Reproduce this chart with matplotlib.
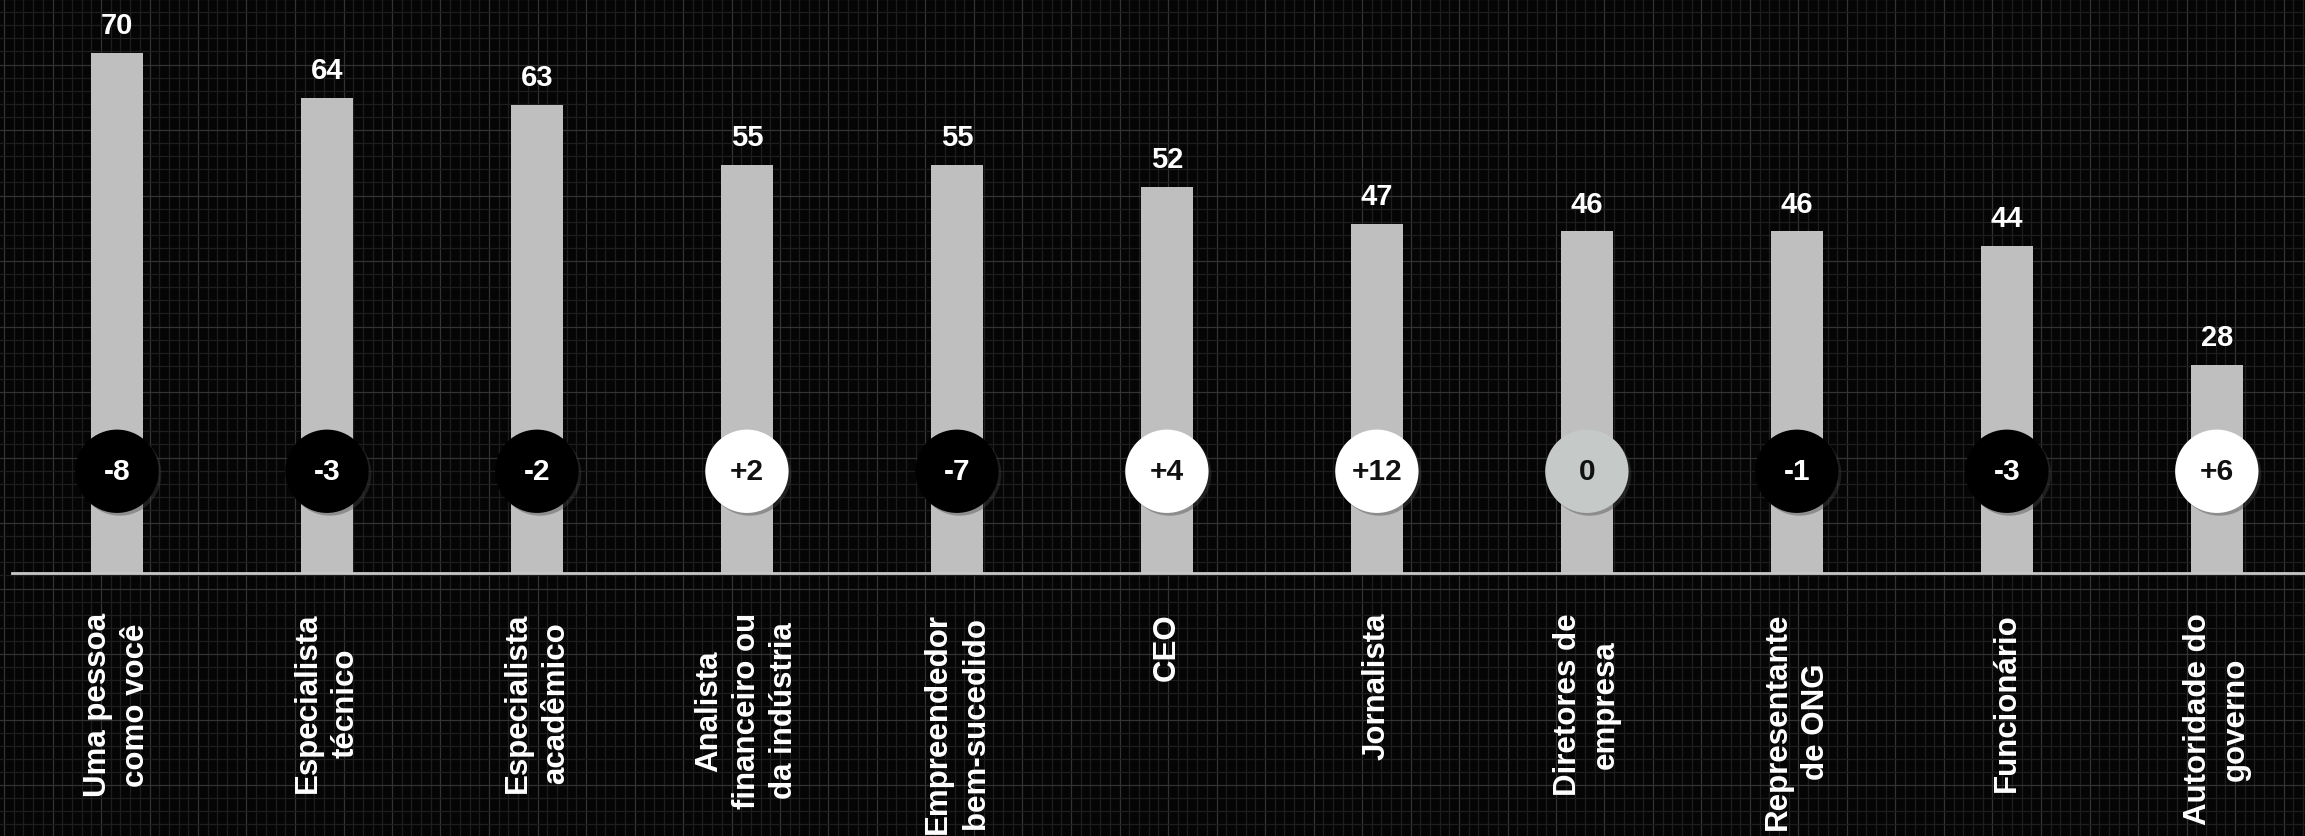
import matplotlib
matplotlib.use("Agg")
import matplotlib.pyplot as plt
import matplotlib.patheffects as pe
import numpy as np

plt.rcParams['font.family'] = ['Liberation Sans', 'DejaVu Sans']
plt.rcParams['font.weight'] = 'bold'

# data
categories = ['Uma pessoa\ncomo você', 'Especialista\ntécnico', 'Especialista\nacadêmico',
              'Analista\nfinanceiro ou\nda indústria', 'Empreendedor\nbem-sucedido', 'CEO',
              'Jornalista', 'Diretores de\nempresa', 'Representante\nde ONG', 'Funcionário',
              'Autoridade do\ngoverno']
values = [70, 64, 63, 55, 55, 52, 47, 46, 46, 44, 28]
changes = [-8, -3, -2, 2, -7, 4, 12, 0, -1, -3, 6]

W, H, DPI = 2305, 837, 100
fig = plt.figure(figsize=(W / DPI, H / DPI), dpi=DPI)
fig.patch.set_facecolor('#050505')

# background grid (decorative)
bg = fig.add_axes([0, 0, 1, 1], zorder=0)
bg.set_xlim(0, W)
bg.set_ylim(H, 0)
bg.set_facecolor('#050505')
bg.axis('off')
for k, xv in enumerate(np.arange(4, W, 9.7)):
    bg.axvline(xv, color='#333333' if k % 5 == 0 else '#1e1e1e', lw=0.9)
for k, yv in enumerate(np.arange(0, H, 13.1)):
    bg.axhline(yv, color='#333333' if k % 5 == 0 else '#1e1e1e', lw=0.9)

# main axes
base_px = 574
ax = fig.add_axes([12 / W, (H - base_px) / H, 1 - 12 / W, base_px / H], zorder=1)
ax.set_facecolor('none')
x = np.arange(len(values))
ax.bar(x, values, width=0.248, color='#bfbfbf', zorder=2)
ax.set_xlim(-0.5, 10.42)
ax.set_ylim(0, 77.3)

for s in ['top', 'right', 'left']:
    ax.spines[s].set_visible(False)
ax.spines['bottom'].set_color('#c8c8c8')
ax.spines['bottom'].set_linewidth(2)
ax.set_yticks([])
ax.set_xticks(x)
ax.set_xticklabels(categories, rotation=90, ha='center', va='top', multialignment='center',
                   color='white', fontsize=22.5, fontweight='bold', linespacing=1.32)
ax.tick_params(axis='x', length=0, pad=28)

# value labels
for xi, v in zip(x, values):
    ax.annotate(str(v), (xi, v), xytext=(0, 20), textcoords='offset points',
                ha='center', va='center', color='white', fontsize=21, fontweight='bold')

# change circles
circ_y = 13.7
face = ['#000000' if c < 0 else ('#ffffff' if c > 0 else '#c5cac8') for c in changes]
txtc = ['white' if c < 0 else '#111111' for c in changes]
sc = ax.scatter(x, [circ_y] * len(x), s=3600, c=face, zorder=3, linewidths=0,
                path_effects=[pe.SimplePatchShadow(offset=(2, -2), shadow_rgbFace='#444444', alpha=0.4),
                              pe.Normal()])
for xi, c, tc in zip(x, changes, txtc):
    lab = '+%d' % c if c > 0 else str(c)
    ax.text(xi, circ_y, lab, ha='center', va='center', color=tc, fontsize=21.5,
            fontweight='bold', zorder=4)

fig.savefig('out.png', dpi=DPI, facecolor=fig.get_facecolor())
